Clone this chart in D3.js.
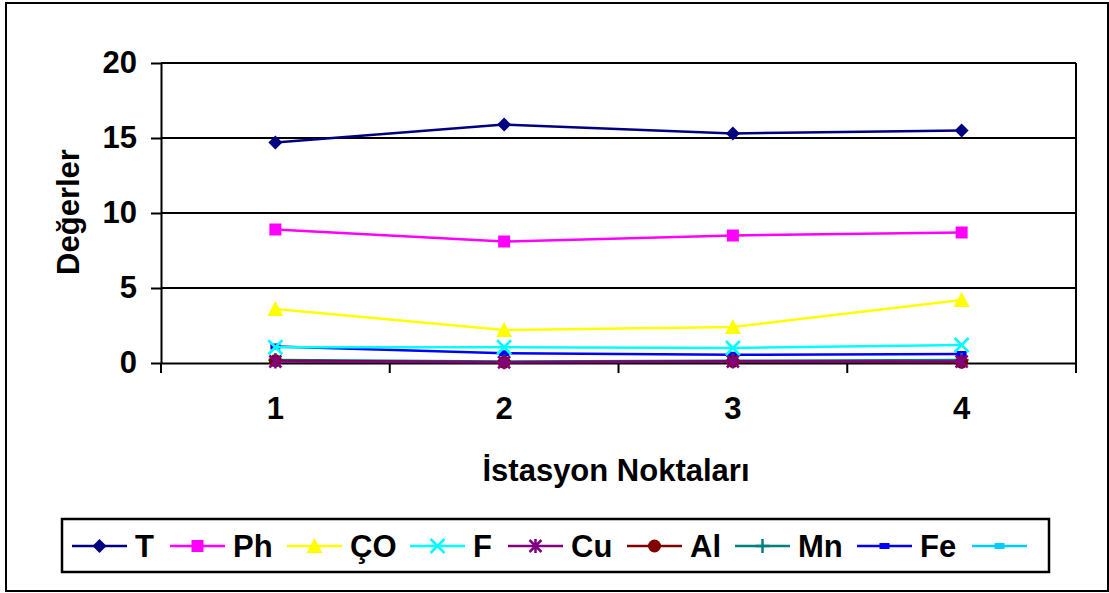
<!DOCTYPE html>
<html lang="tr">
<head>
<meta charset="UTF-8">
<title>Değerler</title>
<script src="https://cdn.jsdelivr.net/npm/d3@7"></script>
<style>
  body { margin: 0; background: #fff; }
  text { font-family: Arial, "Liberation Sans", sans-serif; font-weight: bold; }
</style>
</head>
<body>
<div id="chart"></div>
<script>
// data
const stations = ["1", "2", "3", "4"];
const yTicks = [0, 5, 10, 15, 20];
const seriesNames = ["T", "Ph", "ÇO", "F", "Cu", "Al", "Mn", "Fe", ""];
const T  = [14.7, 15.9, 15.3, 15.5];
const Ph = [8.9, 8.1, 8.5, 8.7];
const CO = [3.6, 2.2, 2.4, 4.2];
const F  = [1.05, 1.05, 1.0, 1.2];
const Cu = [0.1, 0.05, 0.1, 0.1];
const Al = [0.15, 0.05, 0.1, 0.05];
const Mn = [0.2, 0.1, 0.15, 0.2];
const Fe = [1.1, 0.65, 0.55, 0.6];
const blank = [null, null, null, null];

const colors = ["#000080", "#ff00ff", "#ffff00", "#00ffff", "#800080", "#800000", "#008080", "#0000ff", "#00ccff"];
const shapes = ["diamond", "square", "triangle", "x", "star", "circle", "plus", "dash", "dash"];
const values = [T, Ph, CO, F, Cu, Al, Mn, Fe, blank];

const W = 1109, H = 593;
const FS = 31;
const plot = {left: 161, right: 1076, top: 63, bottom: 363};

const svg = d3.select("#chart").append("svg")
  .attr("width", W).attr("height", H);

// outer frame
svg.append("rect").attr("x", 6).attr("y", 3).attr("width", 1102).attr("height", 588)
  .attr("fill", "none").attr("stroke", "#000").attr("stroke-width", 2);

const x = d3.scaleBand().domain(stations).range([plot.left, plot.right]).padding(0);
const y = d3.scaleLinear().domain([0, 20]).range([plot.bottom, plot.top]);

// gridlines
svg.append("g").selectAll("line").data(yTicks.filter(d => d > 0)).join("line")
  .attr("x1", plot.left).attr("x2", plot.right)
  .attr("y1", d => y(d)).attr("y2", d => y(d))
  .attr("stroke", "#000").attr("stroke-width", 2);

// right border of plot
svg.append("line").attr("x1", plot.right).attr("x2", plot.right)
  .attr("y1", plot.top).attr("y2", plot.bottom)
  .attr("stroke", "#000").attr("stroke-width", 2);

// y axis
const yAxis = svg.append("g").attr("transform", `translate(${plot.left},0)`)
  .call(d3.axisLeft(y).tickValues(yTicks).tickSizeInner(10).tickSizeOuter(0).tickPadding(14));
yAxis.select(".domain").attr("stroke-width", 2);
yAxis.selectAll(".tick line").attr("stroke-width", 2);
yAxis.selectAll(".tick text").attr("font-size", FS).attr("font-weight", "bold")
  .attr("font-family", "Arial, 'Liberation Sans', sans-serif").attr("fill", "#000");

// x axis (ticks at category boundaries)
const xAxis = svg.append("g").attr("transform", `translate(0,${plot.bottom})`)
  .call(d3.axisBottom(x).tickSize(0).tickPadding(34));
xAxis.select(".domain").attr("stroke-width", 2);
xAxis.selectAll(".tick text").attr("font-size", FS).attr("font-weight", "bold")
  .attr("font-family", "Arial, 'Liberation Sans', sans-serif").attr("fill", "#000");
const bounds = stations.map(s => x(s)).concat([plot.right]);
svg.append("g").selectAll("line").data(bounds).join("line")
  .attr("x1", d => d).attr("x2", d => d)
  .attr("y1", plot.bottom).attr("y2", plot.bottom + 10)
  .attr("stroke", "#000").attr("stroke-width", 2);

// axis titles
svg.append("text").attr("x", 616).attr("y", 481).attr("text-anchor", "middle")
  .attr("font-size", FS).text("İstasyon Noktaları");
svg.append("text").attr("transform", "translate(79,212) rotate(-90)")
  .attr("text-anchor", "middle").attr("font-size", FS).text("Değerler");

function marker(g, shape, color, cx, cy) {
  const m = g.append("g").attr("transform", `translate(${cx},${cy})`);
  if (shape === "diamond") {
    m.append("path").attr("d", "M0,-7L7,0L0,7L-7,0Z").attr("fill", color);
  } else if (shape === "square") {
    m.append("rect").attr("x", -6).attr("y", -6).attr("width", 12).attr("height", 12).attr("fill", color);
  } else if (shape === "triangle") {
    m.append("path").attr("d", "M0,-8L8,7L-8,7Z").attr("fill", color);
  } else if (shape === "x") {
    m.append("path").attr("d", "M-7,-7L7,7M-7,7L7,-7").attr("stroke", color).attr("stroke-width", 2.5);
  } else if (shape === "star") {
    m.append("path").attr("d", "M-6,-6L6,6M-6,6L6,-6M0,-7L0,7").attr("stroke", color).attr("stroke-width", 2.5);
  } else if (shape === "circle") {
    m.append("circle").attr("r", 6.5).attr("fill", color);
  } else if (shape === "plus") {
    m.append("path").attr("d", "M-7,0L7,0M0,-7L0,7").attr("stroke", color).attr("stroke-width", 2.5);
  } else if (shape === "dash") {
    m.append("rect").attr("x", -5).attr("y", -3).attr("width", 10).attr("height", 6).attr("fill", color);
  }
}

const line = d3.line()
  .defined(d => d != null)
  .x((d, i) => x(stations[i]) + x.bandwidth() / 2)
  .y(d => y(d));

// draw series (first series on top, so draw last ones first)
const series = svg.append("g");
for (let k = values.length - 1; k >= 0; k--) {
  const g = series.append("g");
  g.append("path").datum(values[k]).attr("d", line)
    .attr("fill", "none").attr("stroke", colors[k]).attr("stroke-width", 2.5);
  values[k].forEach((v, i) => {
    if (v != null) marker(g, shapes[k], colors[k], x(stations[i]) + x.bandwidth() / 2, y(v));
  });
}

// legend
const lg = svg.append("g");
lg.append("rect").attr("x", 62).attr("y", 519).attr("width", 987).attr("height", 53)
  .attr("fill", "#fff").attr("stroke", "#000").attr("stroke-width", 2.5);
const legendX = [72, 170, 287, 410, 508, 627, 735, 857, 972];
seriesNames.forEach((name, k) => {
  const lx = legendX[k], ly = 546;
  lg.append("line").attr("x1", lx).attr("x2", lx + 55).attr("y1", ly).attr("y2", ly)
    .attr("stroke", colors[k]).attr("stroke-width", 2.5);
  marker(lg, shapes[k], colors[k], lx + 27.5, ly);
  lg.append("text").attr("x", lx + 63).attr("y", ly + 11).attr("font-size", FS).text(name);
});
</script>
</body>
</html>
